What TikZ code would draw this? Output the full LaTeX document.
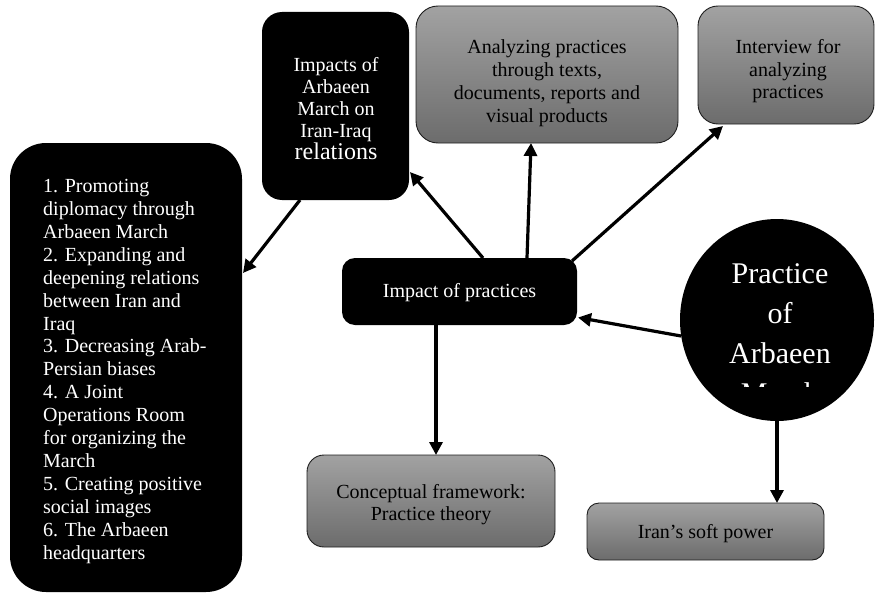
\documentclass[tikz,border=0pt]{standalone}
\usepackage{fontspec}
\setmainfont{Liberation Serif}
\usetikzlibrary{arrows.meta,calc,shapes.geometric}
\definecolor{gtop}{RGB}{162,162,162}
\definecolor{gbot}{RGB}{108,108,108}
\definecolor{gline}{RGB}{30,30,30}
\begin{document}
\begin{tikzpicture}[x=1pt,y=-1pt,
  blk/.style={rectangle, fill=black, draw=none, inner sep=0pt, outer sep=0pt},
  gry/.style={rectangle, top color=gtop, bottom color=gbot, draw=gline, line width=0.9pt, inner sep=0pt, outer sep=0pt},
  wtxt/.style={text=white, inner sep=0pt, align=center, font=\fontsize{20}{22}\selectfont},
  btxt/.style={text=black, inner sep=0pt, align=center, font=\fontsize{20}{23}\selectfont},
  arr/.style={line width=3.2pt, -{Triangle[length=13pt,width=13pt]}}
]
\useasboundingbox (0,0) rectangle (875,594);

% left list box
\node[blk, rounded corners=36pt, minimum width=232pt, minimum height=449pt] (L) at (126,367.5) {};
\node[wtxt, align=left, anchor=base west, font=\fontsize{20}{22.9}\selectfont] (Lt) at (43,559) {1. Promoting\\diplomacy through\\Arbaeen March\\2. Expanding and\\deepening relations\\between Iran and\\Iraq\\3. Decreasing Arab-\\Persian biases\\4. A Joint\\Operations Room\\for organizing the\\March\\5. Creating positive\\social images\\6. The Arbaeen\\headquarters};

% impacts box
\node[blk, rounded corners=20pt, minimum width=147pt, minimum height=188pt] (I) at (335.5,106) {};
\node[wtxt, anchor=base] (It) at (336,159) {Impacts of\\Arbaeen\\March on\\Iran-Iraq\\{\fontsize{24}{28}\selectfont relations}};

% analyzing box
\node[gry, rounded corners=22pt, minimum width=262pt, minimum height=137pt] (A) at (547,74.5) {};
\node[btxt, anchor=base] (At) at (547,122) {Analyzing practices\\through texts,\\documents, reports and\\visual products};

% interview box
\node[gry, rounded corners=20pt, minimum width=176pt, minimum height=118pt] (V) at (786,65) {};
\node[btxt, anchor=base] (Vt) at (788,99) {Interview for\\analyzing\\practices};

% impact of practices
\node[blk, rounded corners=13pt, minimum width=235pt, minimum height=67pt] (P) at (459.5,291.5) {};
\node[wtxt, anchor=base] (Pt) at (459.5,297) {Impact of practices};

% circle
\node[ellipse, fill=black, inner sep=0pt, outer sep=0pt, minimum width=194pt, minimum height=202pt] (C) at (777,320) {};
\node[wtxt, anchor=base, font=\fontsize{30}{40}\selectfont] (Ct) at (780,363) {Practice\\of\\Arbaeen};
\begin{scope}
  \clip (680,370) rectangle (874,386.5);
  \node[wtxt, anchor=base, font=\fontsize{30}{40}\selectfont] (Cm) at (780,403) {March};
\end{scope}

% conceptual framework
\node[gry, rounded corners=17pt, minimum width=248pt, minimum height=92pt] (F) at (431,501) {};
\node[btxt, anchor=base, font=\fontsize{20}{22}\selectfont] (Ft) at (431,520) {Conceptual framework:\\Practice theory};

% soft power
\node[gry, rounded corners=12pt, minimum width=237pt, minimum height=57pt] (S) at (705.5,531.5) {};
\node[btxt, anchor=base] (St) at (705.5,538) {Iran’s soft power};

% connectors
\draw[arr] ($(P.north west)+(141,0)$) -- ($(I.east)+(1,66)$);
\draw[arr] ($(P.north west)+(185,0)$) -- ($(A.south west)+(115,0)$);
\draw[arr] ($(P.north east)+(-5,3)$) -- ($(V.south west)+(25,2)$);
\draw[arr] ($(I.south west)+(38,0)$) -- ($(L.north east)+(1,130)$);
\draw[arr] ($(C.west)+(1,16)$) -- ($(P.east)+(1,26)$);
\draw[arr] ($(P.south west)+(94,0)$) -- ($(F.north west)+(129,0)$);
\draw[arr] (C.south) -- ($(S.north west)+(190,0)$);
\end{tikzpicture}
\end{document}
